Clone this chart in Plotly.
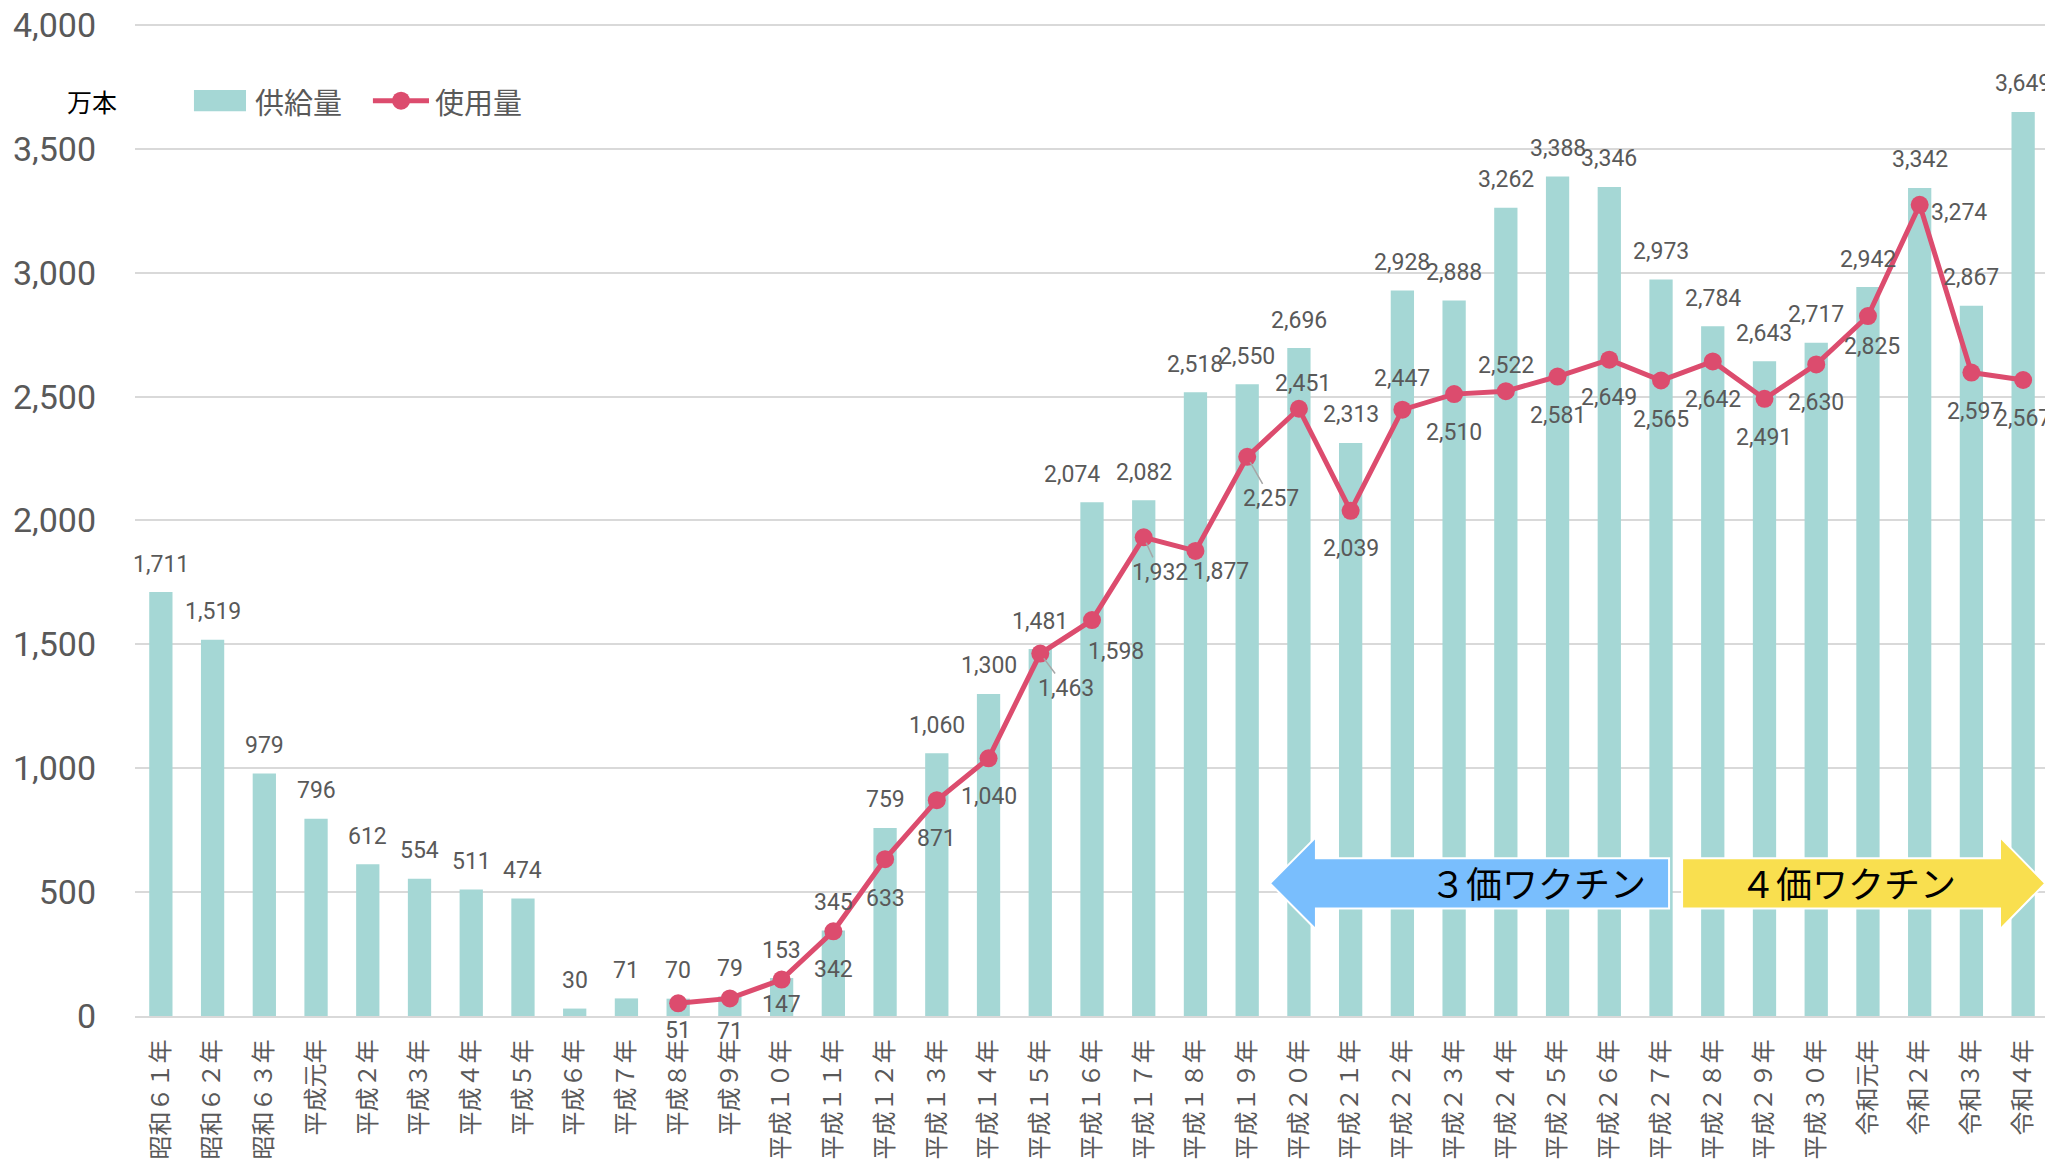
import plotly.graph_objects as go

categories = ["昭和６１年", "昭和６２年", "昭和６３年", "平成元年", "平成２年", "平成３年", "平成４年",
              "平成５年", "平成６年", "平成７年", "平成８年", "平成９年", "平成１０年", "平成１１年",
              "平成１２年", "平成１３年", "平成１４年", "平成１５年", "平成１６年", "平成１７年",
              "平成１８年", "平成１９年", "平成２０年", "平成２１年", "平成２２年", "平成２３年",
              "平成２４年", "平成２５年", "平成２６年", "平成２７年", "平成２８年", "平成２９年",
              "平成３０年", "令和元年", "令和２年", "令和３年", "令和４年"]

supply = [1711, 1519, 979, 796, 612, 554, 511, 474, 30, 71, 70, 79, 153, 345, 759, 1060, 1300,
          1481, 2074, 2082, 2518, 2550, 2696, 2313, 2928, 2888, 3262, 3388, 3346, 2973, 2784,
          2643, 2717, 2942, 3342, 2867, 3649]

usage_categories = categories[10:]
usage = [51, 71, 147, 342, 633, 871, 1040, 1463, 1598, 1932, 1877, 2257, 2451, 2039, 2447, 2510,
         2522, 2581, 2649, 2565, 2642, 2491, 2630, 2825, 3274, 2597, 2567]

y_ticks = [0, 500, 1000, 1500, 2000, 2500, 3000, 3500, 4000]

# label offsets (px) for usage labels: (dx, dy_down, leader)
usage_label_offsets = [(0, 27, 0), (0, 33, 0), (0, 25, 0), (0, 38, 0), (0, 39, 0), (0, 38, 0),
                       (0, 38, 0), (26, 35, 1), (24, 31, 0), (16, 35, 1), (26, 21, 0), (24, 42, 1),
                       (4, -25, 0), (0, 38, 0), (0, -31, 0), (0, 38, 0), (0, -26, 0), (0, 39, 0),
                       (0, 38, 0), (0, 39, 0), (0, 38, 0), (0, 39, 0), (0, 38, 0), (4, 30, 0),
                       (39, 8, 0), (4, 39, 0), (0, 38, 0)]
# horizontal shift (px) for supply labels
supply_label_dx = [0] * 18 + [-20] + [0] * 18

BAR_COLOR = "#A5D7D5"
LINE_COLOR = "#DC4C6E"
TEXT_GRAY = "#595959"
NUM_FONT = "Liberation Sans Narrow, Roboto, sans-serif"
JP_FONT = "Noto Sans CJK JP"

fig = go.Figure()
fig.add_trace(go.Bar(x=categories, y=supply, name="供給量", showlegend=False,
                     marker=dict(color=BAR_COLOR, line=dict(width=0))))
fig.add_trace(go.Scatter(x=usage_categories, y=usage, name="使用量", mode="lines+markers", showlegend=False,
                         line=dict(color=LINE_COLOR, width=5),
                         marker=dict(color=LINE_COLOR, size=18)))

annotations = []
for c, v, dx in zip(categories, supply, supply_label_dx):
    annotations.append(dict(x=c, y=v, xref="x", yref="y", text=f"{v:,}", showarrow=False,
                            yanchor="middle", yshift=28, xshift=dx,
                            font=dict(family=NUM_FONT, size=23, color=TEXT_GRAY)))
for c, v, (dx, dy, leader) in zip(usage_categories, usage, usage_label_offsets):
    if leader:
        annotations.append(dict(x=c, y=v, xref="x", yref="y", text=f"{v:,}", showarrow=True,
                                ax=dx, ay=dy, axref="pixel", ayref="pixel",
                                arrowhead=0, arrowwidth=1.5, arrowcolor="#A6A6A6", standoff=6,
                                font=dict(family=NUM_FONT, size=23, color=TEXT_GRAY)))
    else:
        annotations.append(dict(x=c, y=v, xref="x", yref="y", text=f"{v:,}", showarrow=False,
                                xshift=dx, yshift=-dy, yanchor="middle",
                                font=dict(family=NUM_FONT, size=23, color=TEXT_GRAY)))

LEG_Y = 0.919
# unit label
annotations.append(dict(x=-0.0225, y=LEG_Y, xref="paper", yref="paper", text="万本", showarrow=False,
                        xanchor="center", yanchor="middle", font=dict(family=JP_FONT, size=25, color="#000000")))
# legend texts
annotations.append(dict(x=0.0617, y=LEG_Y, xref="paper", yref="paper", text="供給量", showarrow=False,
                        xanchor="left", yanchor="middle", font=dict(family=JP_FONT, size=29, color=TEXT_GRAY)))
annotations.append(dict(x=0.1557, y=LEG_Y, xref="paper", yref="paper", text="使用量", showarrow=False,
                        xanchor="left", yanchor="middle", font=dict(family=JP_FONT, size=29, color=TEXT_GRAY)))

# vaccine arrows text
annotations.append(dict(x=0.733, y=0.135, xref="paper", yref="paper", text="３価ワクチン", showarrow=False,
                        xanchor="center", yanchor="middle", font=dict(family=JP_FONT, size=36, color="#000000")))
annotations.append(dict(x=0.895, y=0.135, xref="paper", yref="paper", text="４価ワクチン", showarrow=False,
                        xanchor="center", yanchor="middle", font=dict(family=JP_FONT, size=36, color="#000000")))

shapes = [
    dict(type="path", xref="paper", yref="paper",
         path="M 0.5930 0.1332 L 0.6170 0.1796 L 0.6170 0.1584 L 0.8015 0.1584 L 0.8015 0.1080 "
              "L 0.6170 0.1080 L 0.6170 0.0868 Z",
         fillcolor="#79BEFD", line=dict(color="white", width=2), layer="above"),
    dict(type="path", xref="paper", yref="paper",
         path="M 0.9980 0.1332 L 0.9744 0.1796 L 0.9744 0.1584 L 0.8083 0.1584 L 0.8083 0.1080 "
              "L 0.9744 0.1080 L 0.9744 0.0868 Z",
         fillcolor="#F9DF4F", line=dict(color="white", width=2), layer="above"),
    # legend: supply swatch
    dict(type="rect", xref="paper", yref="paper", x0=0.0308, x1=0.0580, y0=LEG_Y - 0.0106, y1=LEG_Y + 0.0106,
         fillcolor=BAR_COLOR, line=dict(width=0), layer="above"),
    # legend: usage line + marker
    dict(type="line", xref="paper", yref="paper", x0=0.1243, x1=0.1536, y0=LEG_Y, y1=LEG_Y,
         line=dict(color=LINE_COLOR, width=5), layer="above"),
    dict(type="circle", xref="paper", yref="paper", xsizemode="pixel", ysizemode="pixel",
         xanchor=0.1390, yanchor=LEG_Y, x0=-9, x1=9, y0=-9, y1=9,
         fillcolor=LINE_COLOR, line=dict(width=0), layer="above"),
]

fig.update_layout(
    width=2045, height=1163,
    margin=dict(l=127, r=4, t=12, b=155),
    plot_bgcolor="white", paper_bgcolor="white",
    bargap=0.55,
    showlegend=False,
    annotations=annotations,
    shapes=shapes,
    xaxis=dict(type="category", tickangle=-90, tickfont=dict(family=JP_FONT, size=24, color=TEXT_GRAY),
               showgrid=False, showline=True, linecolor="#D9D9D9", linewidth=2, ticks="",
               ticklabelstandoff=12, range=[-0.5, 36.5], automargin=False),
    yaxis=dict(range=[0, 4020], tickvals=y_ticks, tickformat=",", showgrid=True, gridcolor="#D9D9D9",
               gridwidth=2, zeroline=False, ticks="", ticklabelstandoff=38, ticklabeloverflow="allow",
               automargin=False, tickfont=dict(family=NUM_FONT, size=34, color=TEXT_GRAY)),
)

fig.write_html("out.html")
